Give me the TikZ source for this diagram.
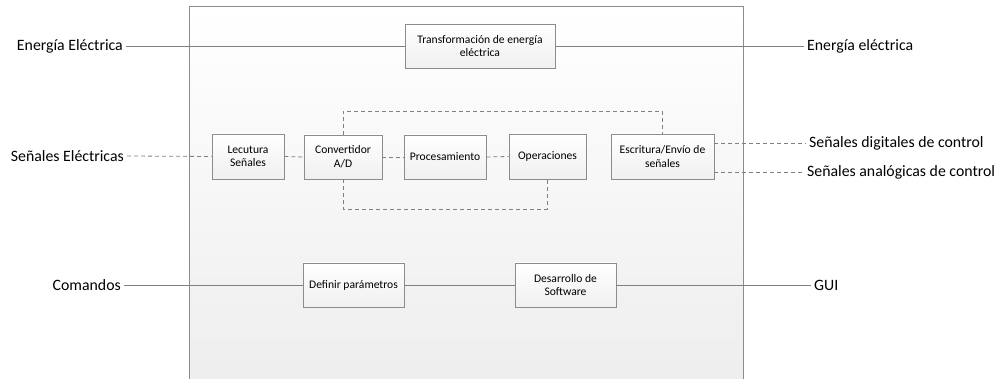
\documentclass[tikz,border=0pt]{standalone}
\usepackage{fontspec}
\setmainfont{Carlito}
\usetikzlibrary{shadows}
\definecolor{lineC}{HTML}{808080}
\definecolor{boxC}{HTML}{8C8C8C}
\tikzset{
  blk/.style={draw=boxC, line width=0.8pt, top color=white, bottom color=gray!12,
    align=center, font=\fontsize{11.6}{13.6}\selectfont, inner sep=2pt,
    drop shadow={opacity=0.18, shadow xshift=1.2pt, shadow yshift=-1.2pt}},
  lab/.style={font=\fontsize{15.8}{18}\selectfont, inner sep=3pt},
  conn/.style={draw=lineC, line width=0.8pt},
  dconn/.style={draw=lineC, line width=0.8pt, dash pattern=on 4pt off 3pt},
}
\begin{document}
\begin{tikzpicture}[x=1pt,y=-1pt]
\useasboundingbox (0,0) rectangle (998,379);
\clip (0,0) rectangle (998,379);
% frame
\draw[draw=boxC, line width=1pt, top color=white, bottom color=gray!14] (189,7) rectangle (743,390);
% blocks
\node[blk, minimum width=150pt, minimum height=44pt] (trans) at (480,46) {Transformación de energía\\eléctrica};
\node[blk, minimum width=72pt, minimum height=45pt] (lec) at (248,156.5) {Lecutura\\Señales};
\node[blk, minimum width=78pt, minimum height=44pt] (conv) at (343,157) {Convertidor\\A/D};
\node[blk, minimum width=82pt, minimum height=44pt] (proc) at (445,157) {Procesamiento};
\node[blk, minimum width=77pt, minimum height=45pt] (oper) at (547.5,156.5) {Operaciones};
\node[blk, minimum width=103pt, minimum height=45pt] (escr) at (662.5,156.5) {Escritura/Envío de\\señales};
\node[blk, minimum width=101pt, minimum height=44pt] (def) at (353.5,285) {Definir parámetros};
\node[blk, minimum width=101pt, minimum height=44pt] (des) at (565.5,285) {Desarrollo de\\Software};
% outside labels
\node[lab, anchor=east] (inEE) at (126,46) {Energía Eléctrica};
\node[lab, anchor=east] (inSE) at (127,156) {Señales Eléctricas};
\node[lab, anchor=east] (inCo) at (124,285) {Comandos};
\node[lab, anchor=west] (outEE) at (804,46) {Energía eléctrica};
\node[lab, anchor=west] (outSD) at (806,143) {Señales digitales de control};
\node[lab, anchor=west] (outSA) at (804,172) {Señales analógicas de control};
\node[lab, anchor=west] (outG) at (811,285) {GUI};
% solid connectors
\draw[conn] (inEE.east) -- (trans.west);
\draw[conn] (trans.east) -- (outEE.west);
\draw[conn] (inCo.east) -- (def.west);
\draw[conn] (def.east) -- (des.west);
\draw[conn] (des.east) -- (outG.west);
% dashed connectors
\draw[dconn] (inSE.east) -- (lec.west);
\draw[dconn] (lec.east) -- (conv.west);
\draw[dconn] (conv.east) -- (proc.west);
\draw[dconn] (proc.east) -- (oper.west);
\draw[dconn] (conv.north) -- (conv.north |- 0,111) -| (escr.north);
\draw[dconn] (conv.south) -- (conv.south |- 0,209) -| (oper.south);
\draw[dconn] (escr.east |- outSD.west) -- (outSD.west);
\draw[dconn] (escr.east |- outSA.west) -- (outSA.west);
\end{tikzpicture}
\end{document}
